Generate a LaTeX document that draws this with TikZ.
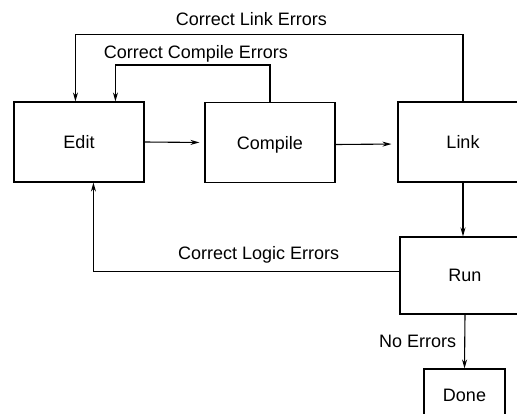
\documentclass[tikz,border=0pt]{standalone}
\usepackage{fontspec}
\setmainfont{Liberation Sans}
\usepackage{tikz}
\usetikzlibrary{arrows.meta}

\begin{document}
\begin{tikzpicture}
    [x=1pt, y=-1pt,
     Stage/.style={draw, line width=1.1pt, inner sep=0pt, text depth=0pt, font=\fontsize{18}{21}\selectfont},
     Flow/.style={->, line width=1.1pt, color=black},
     Loop tag/.style={inner sep=0pt, text depth=0pt, font=\fontsize{18}{21}\selectfont},
    >={Stealth[length=9pt, width=5pt]}
    ]
%page frame, Link, Run and Done run off its edges
\useasboundingbox (0,0) rectangle (517,413);
\clip (0,0) rectangle (517,413);

%the stages of the cycle
\node[Stage, minimum width=130pt, minimum height=80pt] (Edit) at (79,142) {Edit};
\node[Stage, minimum width=130pt, minimum height=80pt] (Compile) at (270,142.5) {Compile};
\node[Stage, minimum width=130pt, minimum height=80pt] (Link) at (463,142) {Link};
\node[Stage, minimum width=130pt, minimum height=77pt] (Run) at (465,275.5) {Run};
\node[Stage, minimum width=81pt, minimum height=52pt] (Done) at (464.5,395) {Done};

%forward steps
\draw[Flow, shorten >=5pt]  (Edit.east) -- (Compile.west);
\draw[Flow, shorten >=6pt]  ([yshift=-2pt]Compile.east) -- ([yshift=-2pt]Link.west);
\draw[Flow]  (Link.south) -- (Link.south |- Run.north);
\draw[Flow]  (Run.south) -- node[Loop tag, left=8pt] (NoErr) {No Errors} (Done.north);

%loops back to Edit
\draw[Flow]  (Link.north) -- ++(0,-67) -| ([xshift=62pt]Edit.north west)
    node[Loop tag, pos=0.273, above=8pt] (LinkErr) {Correct Link Errors};
\draw[Flow]  (Compile.north) -- ++(0,-37) -| ([xshift=102pt]Edit.north west)
    node[Loop tag, pos=0.24, above=6pt] (CompileErr) {Correct Compile Errors};
\draw[Flow]  ([yshift=4pt]Run.west) -| ([xshift=80pt]Edit.south west)
    node[Loop tag, pos=0.23, above=11pt] (LogicErr) {Correct Logic Errors};

\end{tikzpicture}
\end{document}
